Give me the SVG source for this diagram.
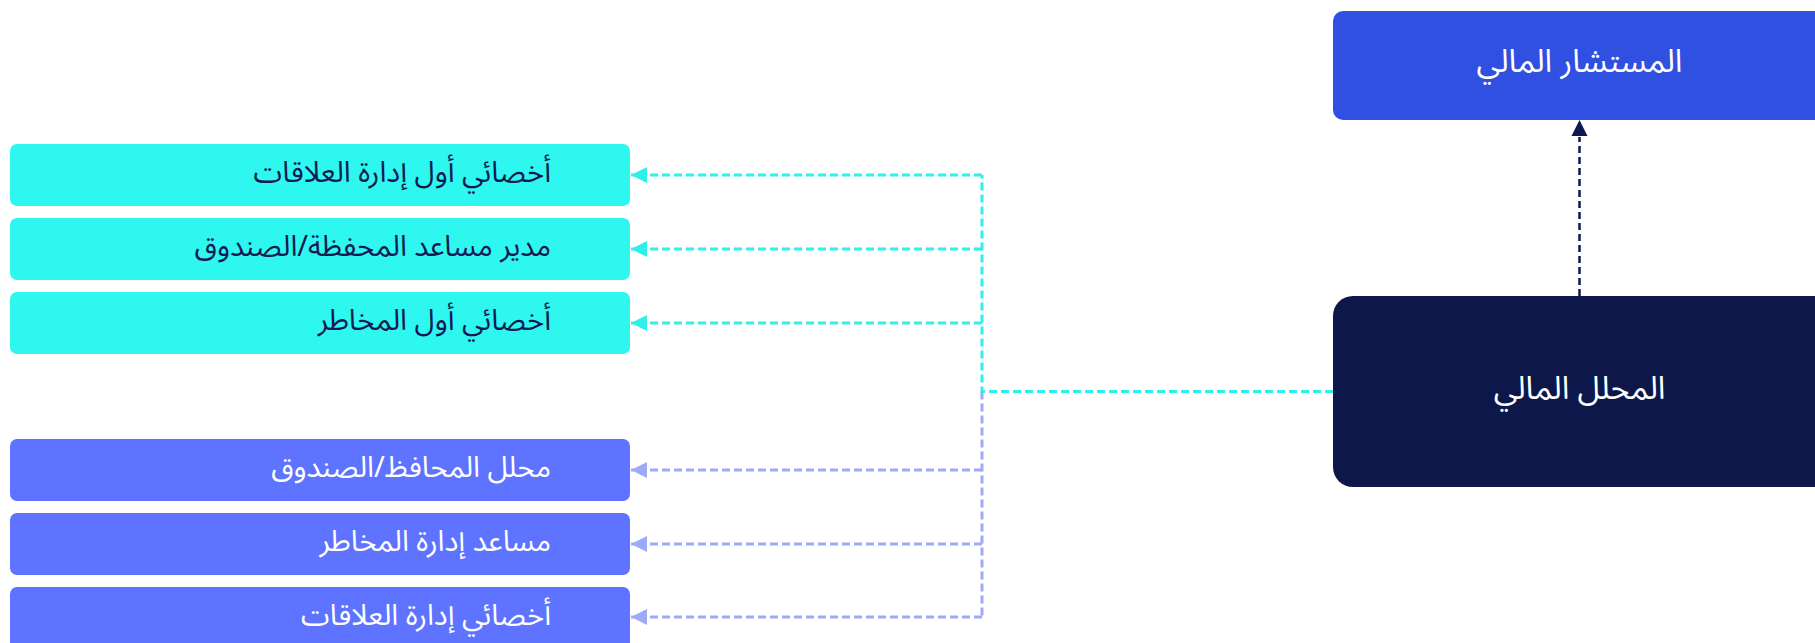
<svg xmlns="http://www.w3.org/2000/svg" width="1815" height="643" viewBox="0 0 1815 643">
<defs>
<style>
.t{font-family:"Noto Sans Arabic","DejaVu Sans",sans-serif;font-size:29px}
.b{font-size:32px}
.dk{fill:#141a52}
.wh{fill:#ffffff}
.cy{fill:#2ef7ef}
.pu{fill:#5e73ff}
.cc{fill:none;stroke:#2ef0ea;stroke-width:3;stroke-dasharray:8 4}
.pc{fill:none;stroke:#9daafa;stroke-width:3;stroke-dasharray:8 4}
.nc{fill:none;stroke:#0d1850;stroke-width:2.5;stroke-dasharray:7 4}
</style>
<marker id="ac" viewBox="0 0 16 16" refX="16" refY="8" markerWidth="16" markerHeight="16" markerUnits="userSpaceOnUse" orient="auto"><path d="M0,0 L16,8 L0,16 Z" fill="#2ef0ea"/></marker>
<marker id="ap" viewBox="0 0 16 16" refX="16" refY="8" markerWidth="16" markerHeight="16" markerUnits="userSpaceOnUse" orient="auto"><path d="M0,0 L16,8 L0,16 Z" fill="#9daafa"/></marker>
</defs>
<g id="connectors">
<path class="cc" d="M1333,391.5 H982 V175"/>
<path class="cc" d="M982,175 H631" marker-end="url(#ac)"/>
<path class="cc" d="M982,249 H631" marker-end="url(#ac)"/>
<path class="cc" d="M982,323 H631" marker-end="url(#ac)"/>
<path class="pc" d="M982,391.5 V617"/>
<path class="pc" d="M982,470 H631" marker-end="url(#ap)"/>
<path class="pc" d="M982,544 H631" marker-end="url(#ap)"/>
<path class="pc" d="M982,617 H631" marker-end="url(#ap)"/>
<path class="nc" d="M1579.5,296 V137"/>
<path d="M1579.5,120 L1571.5,136 L1587.5,136 Z" fill="#0d1850"/>
</g>
<g id="advisor">
<rect x="1333" y="11" width="500" height="109" rx="10" fill="#3050e1"/>
<text class="t b wh" x="1579.5" y="72" text-anchor="middle">المستشار المالي</text>
</g>
<g id="analyst">
<rect x="1333" y="296" width="500" height="191" rx="20" fill="#0d174a"/>
<text class="t b wh" x="1579.5" y="399" text-anchor="middle">المحلل المالي</text>
</g>
<g id="n1">
<rect class="cy" x="10" y="144" width="620" height="62" rx="7"/>
<text class="t dk" x="551" y="182" text-anchor="end">أخصائي أول إدارة العلاقات</text>
</g>
<g id="n2">
<rect class="cy" x="10" y="218" width="620" height="62" rx="7"/>
<text class="t dk" x="551" y="256" text-anchor="end">مدير مساعد المحفظة/الصندوق</text>
</g>
<g id="n3">
<rect class="cy" x="10" y="292" width="620" height="62" rx="7"/>
<text class="t dk" x="551" y="330" text-anchor="end">أخصائي أول المخاطر</text>
</g>
<g id="n4">
<rect class="pu" x="10" y="439" width="620" height="62" rx="7"/>
<text class="t wh" x="551" y="477" text-anchor="end">محلل المحافظ/الصندوق</text>
</g>
<g id="n5">
<rect class="pu" x="10" y="513" width="620" height="62" rx="7"/>
<text class="t wh" x="551" y="551" text-anchor="end">مساعد إدارة المخاطر</text>
</g>
<g id="n6">
<rect class="pu" x="10" y="587" width="620" height="62" rx="7"/>
<text class="t wh" x="551" y="625" text-anchor="end">أخصائي إدارة العلاقات</text>
</g>
</svg>
